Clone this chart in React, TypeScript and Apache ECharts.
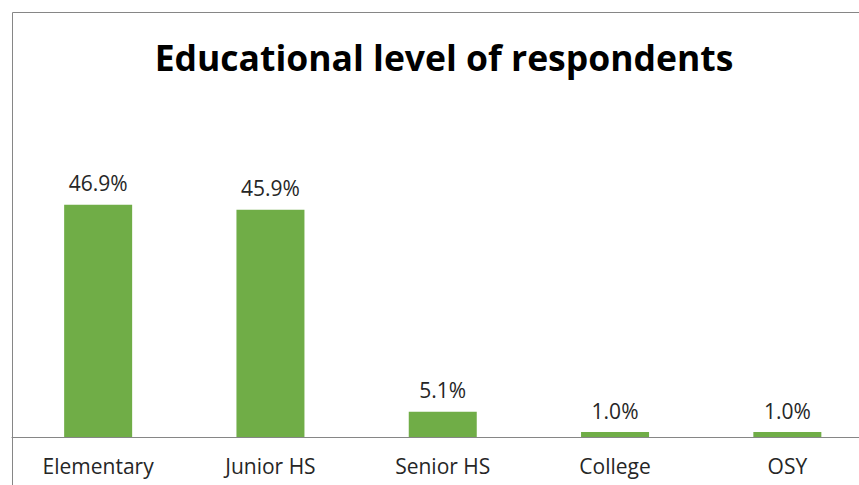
import React, { useEffect, useRef } from "react";
import * as echarts from "echarts";

const categories = ["Elementary", "Junior HS", "Senior HS", "College", "OSY"];
const percentages = [46.9, 45.9, 5.1, 1.0, 1.0];
const titleText = "Educational level of respondents";

export default function App() {
  const ref = useRef<HTMLDivElement>(null);
  useEffect(() => {
    if (!ref.current) return;
    const chart = echarts.init(ref.current, null, { renderer: "svg" });
    chart.setOption({
      animation: false,
      backgroundColor: "#ffffff",
      title: {
        text: titleText,
        left: 439,
        textAlign: "center",
        top: 34,
        textStyle: { fontFamily: "Open Sans", fontWeight: "bold", fontSize: 35.5, color: "#000000" },
      },
      graphic: [
        {
          type: "rect",
          shape: { x: 12.5, y: 12.5, width: 900, height: 600 },
          style: { fill: "none", stroke: "#868686", lineWidth: 1 },
          silent: true,
        },
      ],
      grid: { left: 12, top: 140, width: 861.5, height: 297 },
      xAxis: {
        type: "category",
        data: categories,
        axisLine: { lineStyle: { color: "#868686", width: 1 } },
        axisTick: { length: 5, lineStyle: { color: "#868686" } },
        axisLabel: { fontFamily: "Open Sans", fontSize: 21, color: "#262626", margin: 18 },
      },
      yAxis: {
        type: "value",
        min: 0,
        max: 60,
        show: false,
        splitLine: { show: false },
      },
      series: [
        {
          type: "bar",
          data: percentages,
          barWidth: 68,
          itemStyle: { color: "#70AD47" },
          label: {
            show: true,
            position: "top",
            distance: 11,
            formatter: (p: any) => p.value.toFixed(1) + "%",
            fontFamily: "Open Sans",
            fontSize: 21,
            color: "#262626",
          },
        },
      ],
    });
    return () => chart.dispose();
  }, []);
  return (
    <div style={{ position: "fixed", left: 0, top: 0, width: 859, height: 485, overflow: "hidden", background: "#fff" }}>
      <div ref={ref} style={{ width: 900, height: 520 }} />
    </div>
  );
}
